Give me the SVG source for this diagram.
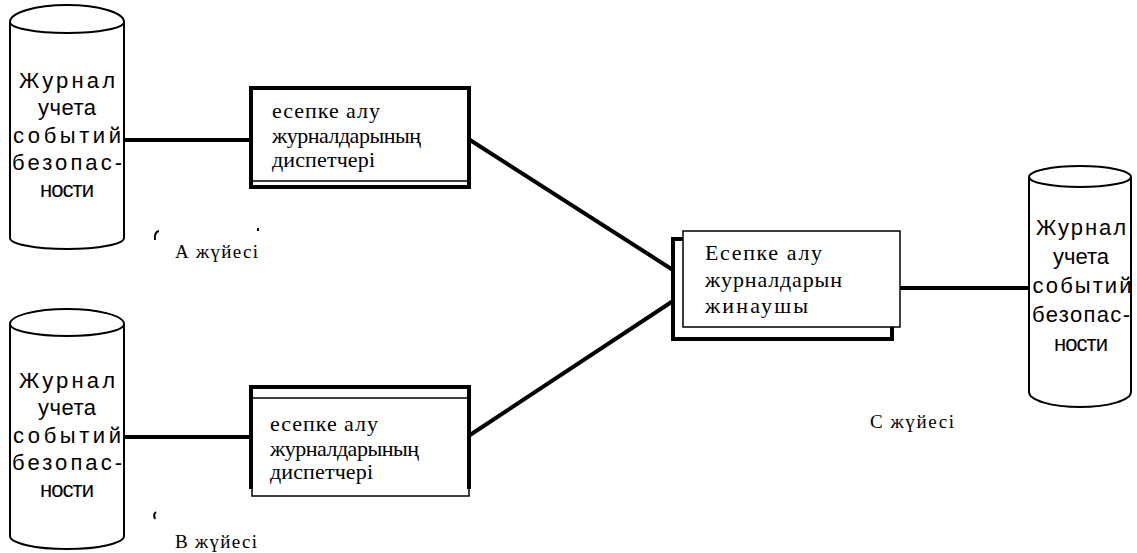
<svg xmlns="http://www.w3.org/2000/svg" width="1137" height="553" viewBox="0 0 1137 553">
<defs>
<style>
.cyl{fill:#fff;stroke:#000;stroke-width:2}
.cylt{font-family:"Liberation Sans","DejaVu Sans",Arial,sans-serif;font-size:22px;fill:#000;text-anchor:middle}
.bt{font-family:"Liberation Serif","DejaVu Serif","Times New Roman",serif;font-size:22px;fill:#000}
.lbl{font-family:"Liberation Serif","DejaVu Serif","Times New Roman",serif;font-size:19px;fill:#000}
.thick{fill:none;stroke:#000;stroke-width:4;stroke-linejoin:miter}
.thin{fill:#fff;stroke:#000;stroke-width:1.5}
.conn{stroke:#000;stroke-width:4;fill:none}
.mark{stroke:#000;stroke-width:2;fill:none}
</style>
</defs>
<rect width="1137" height="553" fill="#fff"/>
<g id="connectors">
<line class="conn" x1="124" y1="140" x2="251" y2="140"/>
<line class="conn" x1="470" y1="140" x2="673" y2="270"/>
<line class="conn" x1="124" y1="437" x2="251" y2="437"/>
<line class="conn" x1="470" y1="435" x2="673" y2="301"/>
<line class="conn" x1="900" y1="288" x2="1029" y2="288"/>
</g>
<g id="cylA">
<path class="cyl" d="M10,22 A57,17 0 0 1 124,22 V238 A57,11 0 0 1 10,238 Z"/>
<path class="cyl" d="M10,22 A57,11 0 0 0 124,22" fill="none"/>
<text class="cylt" x="67" y="88" textLength="96" lengthAdjust="spacing">Журнал</text>
<text class="cylt" x="67" y="115" textLength="58" lengthAdjust="spacing">учета</text>
<text class="cylt" x="67" y="143" textLength="108" lengthAdjust="spacing">событий</text>
<text class="cylt" x="67" y="170" textLength="110" lengthAdjust="spacing">безопас-</text>
<text class="cylt" x="67" y="197" textLength="54" lengthAdjust="spacing">ности</text>
</g>
<g id="cylB">
<path class="cyl" d="M10,324 A57,15 0 0 1 124,324 V536 A57,13 0 0 1 10,536 Z"/>
<path class="cyl" d="M10,324 A57,12 0 0 0 124,324" fill="none"/>
<text class="cylt" x="67" y="388" textLength="96" lengthAdjust="spacing">Журнал</text>
<text class="cylt" x="67" y="415" textLength="58" lengthAdjust="spacing">учета</text>
<text class="cylt" x="67" y="443" textLength="108" lengthAdjust="spacing">событий</text>
<text class="cylt" x="67" y="470" textLength="110" lengthAdjust="spacing">безопас-</text>
<text class="cylt" x="67" y="497" textLength="54" lengthAdjust="spacing">ности</text>
</g>
<g id="cylC">
<path class="cyl" d="M1029,177 A51,11 0 0 1 1131,177 V392 A51,15 0 0 1 1029,392 Z"/>
<path class="cyl" d="M1029,177 A51,10 0 0 0 1131,177" fill="none"/>
<text class="cylt" x="1081" y="235" textLength="90" lengthAdjust="spacing">Журнал</text>
<text class="cylt" x="1081" y="264" textLength="56" lengthAdjust="spacing">учета</text>
<text class="cylt" x="1082" y="293" textLength="99" lengthAdjust="spacing">событий</text>
<text class="cylt" x="1081" y="322" textLength="98" lengthAdjust="spacing">безопас-</text>
<text class="cylt" x="1081" y="351" textLength="54" lengthAdjust="spacing">ности</text>
</g>
<g id="boxA">
<rect x="251" y="88" width="218" height="99" fill="#fff" stroke="#000" stroke-width="4"/>
<line x1="253" y1="181" x2="467" y2="181" stroke="#000" stroke-width="1.5"/>
<text class="bt" x="272" y="118" textLength="108">есепке алу</text>
<text class="bt" x="272" y="143" textLength="149">журналдарының</text>
<text class="bt" x="272" y="167" textLength="103">диспетчері</text>
</g>
<g id="boxB">
<rect class="thin" x="252" y="398" width="217" height="98"/>
<path class="thick" d="M251,489 V387 H469 V489"/>
<text class="bt" x="270" y="431" textLength="108">есепке алу</text>
<text class="bt" x="270" y="456" textLength="149">журналдарының</text>
<text class="bt" x="270" y="479" textLength="103">диспетчері</text>
</g>
<g id="boxC">
<rect x="673" y="239" width="219" height="100" fill="#fff" stroke="#000" stroke-width="4"/>
<rect class="thin" x="683" y="231" width="217" height="96"/>
<text class="bt" x="705" y="260" textLength="117">Есепке алу</text>
<text class="bt" x="705" y="287" textLength="137">журналдарын</text>
<text class="bt" x="705" y="313" textLength="103">жинаушы</text>
</g>
<g id="labels">
<text class="lbl" x="175" y="258" textLength="83">А жүйесі</text>
<text class="lbl" x="175" y="548" textLength="82">В жүйесі</text>
<text class="lbl" x="870" y="428" textLength="84">С жүйесі</text>
<path class="mark" d="M159,231 Q154,232 155,240"/>
<path class="mark" d="M258,228 v3"/>
<path class="mark" d="M156,512 Q153,514 155,519"/>
</g>
</svg>
